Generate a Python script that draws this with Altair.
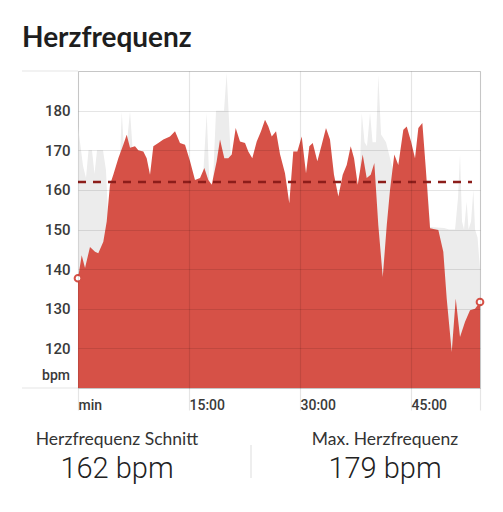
import altair as alt
import pandas as pd

# Heart-rate series (minutes, bpm)
minutes = [0.00, 0.50, 0.95, 1.62, 2.30, 2.74, 3.42, 3.88, 4.32, 4.77, 5.45, 6.12, 6.58, 7.03,
           7.70, 8.15, 8.83, 9.28, 9.73, 10.18, 10.85, 11.53, 12.43, 13.11, 13.78, 14.46,
           15.14, 15.81, 16.49, 17.07, 17.61, 18.07, 18.74, 19.19, 19.77, 20.31, 20.77,
           21.31, 21.89, 22.57, 23.01, 23.55, 24.15, 24.73, 25.27, 25.72, 26.18, 26.76,
           27.30, 27.97, 28.55, 29.09, 29.64, 30.23, 30.81, 31.26, 31.72, 32.34, 32.93,
           33.51, 34.05, 34.59, 35.18, 35.77, 36.31, 36.85, 37.30, 37.80, 38.47, 39.01,
           39.55, 40.04, 40.58, 41.18, 41.72, 42.16, 42.74, 43.28, 43.96, 44.42, 45.00,
           45.54, 45.99, 46.53, 46.99, 47.57, 48.69, 49.36, 49.82, 50.50, 51.04, 51.62,
           52.30, 52.97, 53.65, 54.32]
bpm = [137.7, 143.5, 140.3, 145.6, 144.4, 144.0, 146.9, 152.0, 161.3, 163.8, 168.0, 171.4,
       173.9, 170.6, 171.0, 170.0, 169.7, 168.0, 163.8, 171.0, 171.8, 172.7, 173.5, 174.8,
       171.8, 171.4, 167.2, 162.5, 163.0, 165.5, 162.5, 161.3, 167.2, 172.7, 168.0, 168.0,
       168.9, 175.6, 172.2, 171.8, 169.7, 168.0, 172.2, 174.8, 177.7, 176.0, 173.5, 174.8,
       169.0, 164.2, 156.6, 169.7, 169.7, 173.5, 164.2, 171.0, 171.8, 167.2, 171.4, 175.6,
       172.7, 163.8, 158.3, 163.8, 166.3, 171.0, 168.0, 161.3, 168.9, 163.0, 163.8, 166.8,
       151.1, 138.0, 151.1, 160.0, 168.9, 166.3, 175.2, 176.0, 172.2, 168.0, 175.6, 176.9,
       165.5, 150.3, 149.9, 144.4, 132.6, 119.1, 132.6, 122.9, 126.7, 129.6, 130.0, 131.7]

# Light grey background series (peaks)
max_minutes = [0.00, 0.27, 0.68, 1.08, 1.42, 1.89, 2.23, 2.57, 3.38, 3.78, 4.05, 5.14, 5.68,
               5.91, 6.22, 6.62, 7.03, 7.43, 8.38, 16.49, 16.89, 17.39, 17.77, 18.24, 18.65,
               19.73, 20.09, 20.34, 20.68, 21.89, 37.84, 38.11, 38.34, 38.72, 39.05, 39.46,
               39.80, 40.27, 40.58, 40.95, 41.62, 42.16, 42.57, 43.51, 46.89, 47.16, 47.57,
               49.46, 50.14, 50.95, 51.35, 51.62, 51.89, 52.16, 52.52, 52.77, 53.11, 53.42,
               53.65, 53.99, 54.32]
max_bpm = [176, 172, 166, 163, 170, 170, 164, 170, 170, 165, 154, 164, 168,
           179.8, 170, 172, 179.8, 169, 150, 150, 163, 179.4, 161, 162, 180,
           180, 189.5, 180, 167, 150, 150, 166, 179.4, 172, 171, 179.4,
           172, 172, 189, 174, 172, 168, 165, 150, 150, 163, 150.6,
           150.4, 150, 150, 158, 169, 152, 150, 157, 150, 152, 160,
           150, 148, 140]

avg_bpm = 162
y_ticks = [110, 120, 130, 140, 150, 160, 170, 180, 190]
x_ticks = [0, 15, 30, 45, 54.32]
stats_labels = ["Herzfrequenz Schnitt", "Max. Herzfrequenz"]
stats_values = ["162 bpm", "179 bpm"]

RED = "#d65147"
GREY = "#ececec"
W, H = 402, 317

df = pd.DataFrame({"t": minutes, "v": bpm})
dmax = pd.DataFrame({"t": max_minutes, "v": max_bpm})
ends = pd.DataFrame({"t": [minutes[0], minutes[-1]], "v": [bpm[0], bpm[-1]]})

xs = alt.Scale(domain=[0, 54.32], nice=False, zero=False)
ys = alt.Scale(domain=[110, 190], nice=False, zero=False)

xaxis = alt.Axis(values=x_ticks, tickCount=20,
                 labelExpr="datum.value == 0 ? ' min' : (datum.value > 50 ? '' : ' ' + datum.value + ':00')",
                 labelAlign="left", labelPadding=-12, labelBaseline="top", labelOverlap=False,
                 labelFontSize=14, labelFont="Roboto", labelFontWeight=500, labelColor="#3a3a3a",
                 tickSize=22, tickColor="#000", tickOpacity=0.1, tickWidth=1.2,
                 grid=True, gridColor="#000", gridOpacity=0.1, gridWidth=1.2,
                 domain=False, title=None, zindex=1)
yaxis = alt.Axis(values=y_ticks, tickCount=20,
                 labelExpr="datum.value < 115 || datum.value > 185 ? '' : datum.label",
                 labelPadding=8, labelFontSize=15, labelFont="Roboto", labelFontWeight=500,
                 labelOverlap=False, labelColor="#3a3a3a", ticks=False, domain=False,
                 grid=True, gridColor="#000", gridOpacity=0.1, gridWidth=1.2, title=None, zindex=1)

grey_area = alt.Chart(dmax).mark_area(color=GREY, interpolate="linear").encode(
    x=alt.X("t:Q", scale=xs, axis=xaxis),
    y=alt.Y("v:Q", scale=ys, axis=yaxis),
    y2=alt.datum(110),
)
red_area = alt.Chart(df).mark_area(color=RED, opacity=1).encode(
    x=alt.X("t:Q", scale=xs), y=alt.Y("v:Q", scale=ys), y2=alt.datum(110)
)
avg_line = alt.Chart(pd.DataFrame({"v": [avg_bpm]})).mark_rule(
    color="#8c1d1a", strokeWidth=2.6, strokeDash=[8, 7]
).encode(y=alt.Y("v:Q", scale=ys), x=alt.value(0), x2=alt.value(394))

ext = alt.Chart(pd.DataFrame({"v": [110, 190]})).mark_rule(
    color="#000", opacity=0.1, strokeWidth=1.2
).encode(y=alt.Y("v:Q", scale=ys), x=alt.value(-56), x2=alt.value(0))

pts = alt.Chart(ends).mark_point(shape="circle", filled=True, fill="white", stroke=RED,
                                 strokeWidth=2, size=45, opacity=1).encode(
    x=alt.X("t:Q", scale=xs), y=alt.Y("v:Q", scale=ys)
)

bpm_lbl = alt.Chart(pd.DataFrame({"s": ["bpm"]})).mark_text(
    align="right", baseline="middle", fontSize=14, font="Roboto", fontWeight=500, color="#3a3a3a"
).encode(text="s:N", x=alt.value(-8), y=alt.value(305))

title = alt.Chart(pd.DataFrame({"s": ["Herzfrequenz"]})).mark_text(
    align="left", baseline="alphabetic", fontSize=28, font="Comic Sans MS, Lato", fontWeight="bold",
    color="#1e1e1e"
).encode(text="s:N", x=alt.value(-56), y=alt.value(-24))

stats_df = pd.DataFrame({"lab": stats_labels, "val": stats_values, "cx": [39, 307]})
stat_lab = alt.Chart(stats_df).mark_text(
    align="center", baseline="middle", fontSize=17.5, font="Comic Sans MS, Lato", color="#333"
).encode(text="lab:N", x=alt.X("cx:Q", scale=None), y=alt.value(369))
stat_val = alt.Chart(stats_df).mark_text(
    align="center", baseline="alphabetic", fontSize=29, font="Roboto", fontWeight=300, color="#222"
).encode(text="val:N", x=alt.X("cx:Q", scale=None), y=alt.value(407))

divider = alt.Chart(pd.DataFrame({"a": [0]})).mark_rule(color="#dddddd", strokeWidth=1).encode(
    x=alt.value(173), y=alt.value(374), y2=alt.value(407)
)

chart = alt.layer(
    grey_area, red_area, avg_line, ext, pts, bpm_lbl, title, stat_lab, stat_val, divider
).properties(
    width=W, height=H,
    autosize=alt.AutoSizeParams(type="none"),
    padding={"left": 70, "top": 63, "right": 15, "bottom": 116},
).configure_view(stroke=None).configure(background="white")

chart.save("out.html", embed_options={"renderer": "svg", "actions": False})
